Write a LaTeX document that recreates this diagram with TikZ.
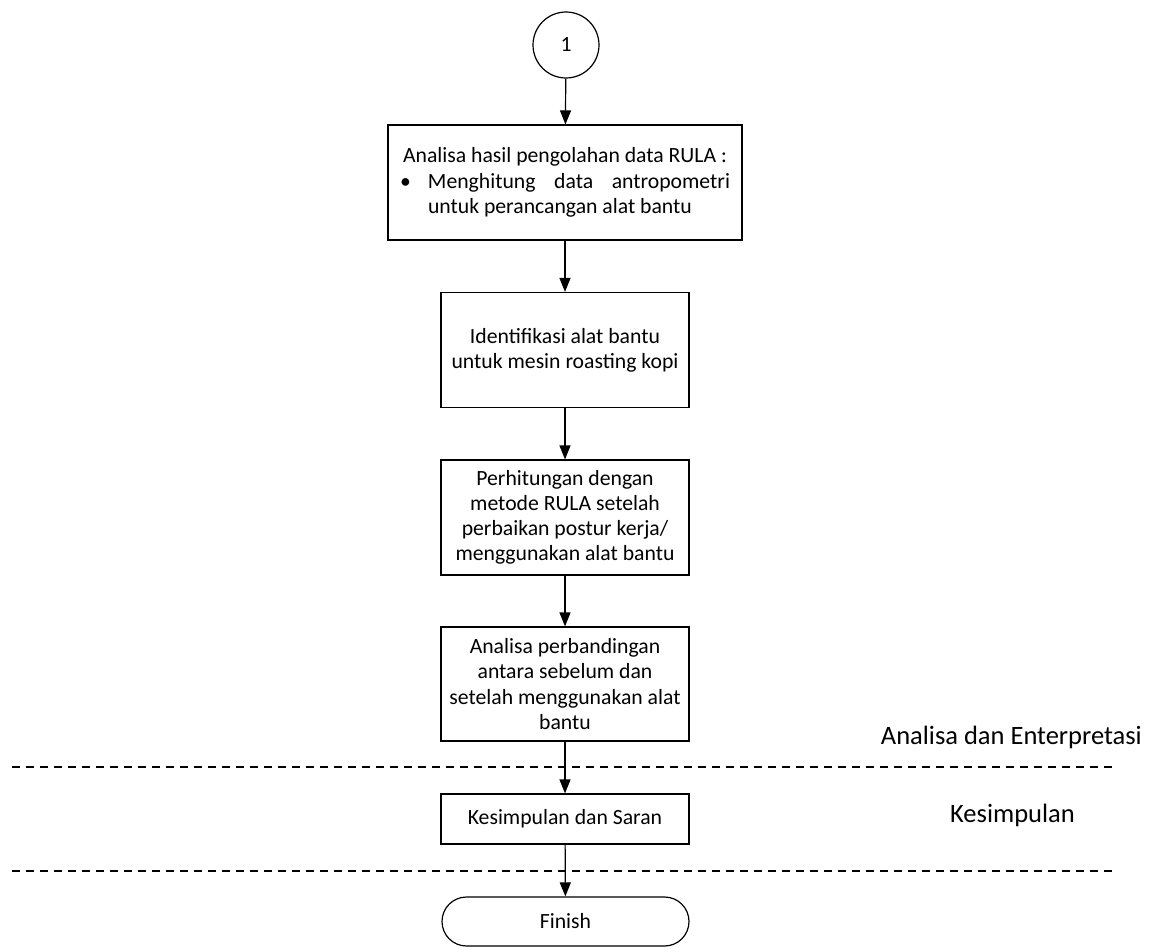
\documentclass[tikz,border=0pt]{standalone}
\usepackage{fontspec}
\setmainfont{Carlito}
\usetikzlibrary{arrows.meta,shapes.misc}
\tikzset{
  box/.style={draw, line width=1.2pt, minimum width=248pt, align=center, inner sep=0pt},
  conn/.style={line width=1.2pt, -{Triangle[length=14pt,width=11pt]}},
  sep/.style={line width=1.8pt, dash pattern=on 8pt off 6pt},
  lbl/.style={font=\fontsize{26.5}{30}\selectfont, inner sep=0pt}
}
\begin{document}
\begin{tikzpicture}[x=1pt,y=-1pt, every node/.style={font=\fontsize{21.7}{25.2}\selectfont}]
\useasboundingbox (0,0) rectangle (1149,947);
\node[draw, circle, line width=1.2pt, minimum size=66pt, inner sep=0pt] (c1) at (566,45) {1};
\node[box, minimum width=354pt, minimum height=115pt] (b1) at (565,182.5) {%
  \begin{minipage}{330pt}\fontsize{21.7}{25.2}\selectfont
  \makebox[\linewidth][c]{Analisa hasil pengolahan data RULA :}\\
  \makebox[28pt][l]{\textbullet}\makebox[302pt][s]{Menghitung data antropometri}\\
  \hspace*{28pt}untuk perancangan alat bantu
  \end{minipage}};
\node[box, minimum height=115pt] (b2) at (565,350) {Identifikasi alat bantu\\untuk mesin roasting kopi};
\node[box, minimum height=115pt] (b3) at (565,517.5) {Perhitungan dengan\\metode RULA setelah\\perbaikan postur kerja/\\menggunakan alat bantu};
\node[box, minimum height=114pt] (b4) at (565,684) {Analisa perbandingan\\antara sebelum dan\\setelah menggunakan alat\\bantu};
\node[box, minimum height=50pt] (b5) at (565,819) {Kesimpulan dan Saran};
\node[draw, rounded rectangle, line width=1.2pt, minimum width=247pt, minimum height=49pt, inner sep=0pt] (fin) at (565.5,921.5) {Finish};
\coordinate (l1a) at (12,767);
\coordinate (l1b) at (1112,767);
\coordinate (l2a) at (12,871);
\coordinate (l2b) at (1112,871);
\draw[sep] (l1a) -- (l1b);
\draw[sep] (l2a) -- (l2b);
\node[lbl, anchor=east] (t1) at (1142,737) {Analisa dan Enterpretasi};
\node[lbl, anchor=east] (t2) at (1075,815) {Kesimpulan};
\draw[conn] (c1) -- (b1);
\draw[conn] (b1) -- (b2);
\draw[conn] (b2) -- (b3);
\draw[conn] (b3) -- (b4);
\draw[conn] (b4) -- (b5);
\draw[conn] (b5) -- (fin);
\end{tikzpicture}
\end{document}
